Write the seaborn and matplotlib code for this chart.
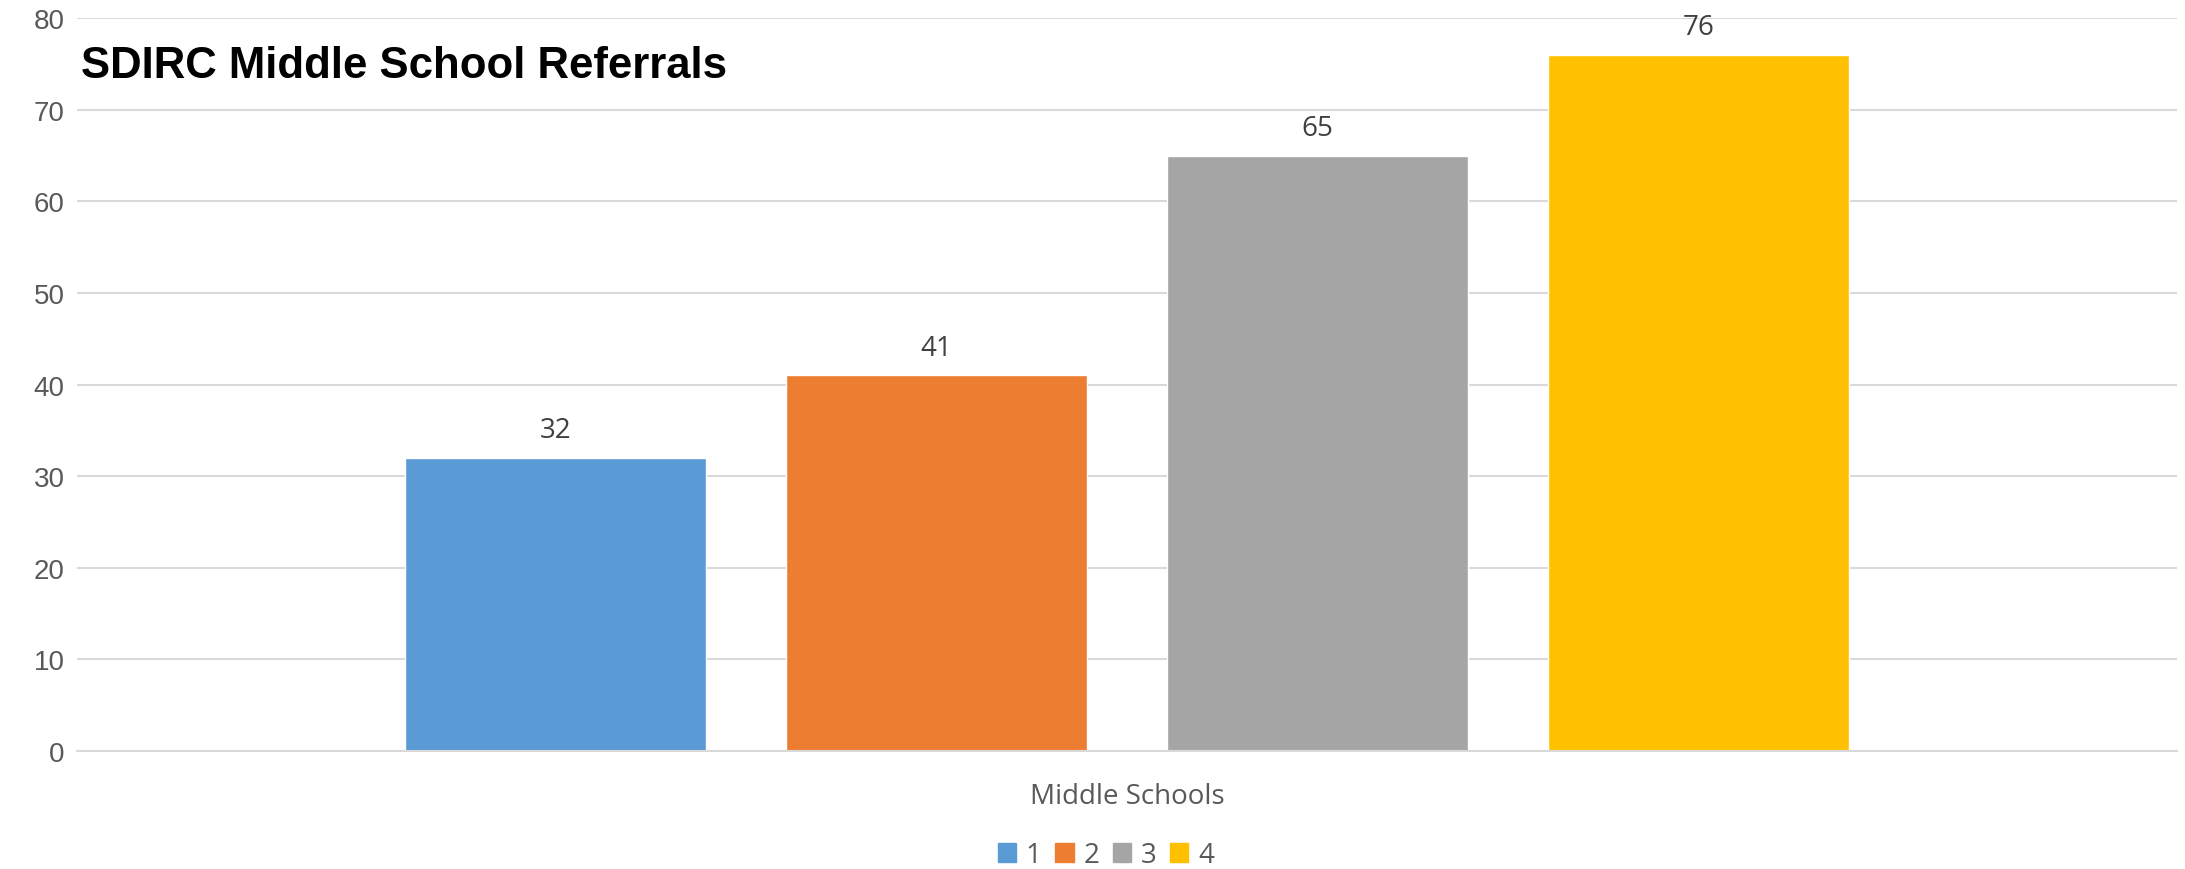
import pandas as pd
import matplotlib.pyplot as plt
import matplotlib.patches as mpatches
import seaborn as sns

# chart data
category = "Middle Schools"
groups = ["1", "2", "3", "4"]
referrals = [32, 41, 65, 76]
colors = ["#5B9BD5", "#ED7D31", "#A5A5A5", "#FFC000"]
y_ticks = [0, 10, 20, 30, 40, 50, 60, 70, 80]

data = pd.DataFrame({"school": [category] * len(groups), "group": groups, "referrals": referrals})

sns.set_theme(style="white")
plt.rcParams["font.family"] = ["Open Sans", "DejaVu Sans"]

fig = plt.figure(figsize=(21.85, 8.7), dpi=100)
ax = fig.add_axes([0.0352, 0.1356, 0.9611, 0.8424])

sns.barplot(data=data, x="school", y="referrals", hue="group", palette=colors,
            width=0.7256, gap=0.21, legend=False, ax=ax, saturation=1)

for cont in ax.containers:
    ax.bar_label(cont, padding=10, fontsize=20, color="#404040")

ax.set_ylim(0, 80)
ax.set_xlim(-0.5, 0.5)
ax.set_yticks(y_ticks)
ax.set_yticklabels([str(t) for t in y_ticks], family="Liberation Sans", fontsize=20, color="#595959")
ax.tick_params(axis="y", length=0, pad=9)
ax.tick_params(axis="x", length=0, pad=22, labelsize=20, labelcolor="#595959")
ax.set_xlabel("")
ax.set_ylabel("")
ax.yaxis.grid(True, color="#D9D9D9", linewidth=1.5)
ax.set_axisbelow(True)
for s in ["top", "left", "right"]:
    ax.spines[s].set_visible(False)
ax.spines["bottom"].set_color("#D9D9D9")
ax.spines["bottom"].set_linewidth(1.5)

fig.text(81 / 2185, 1 - 78 / 870, "SDIRC Middle School Referrals", fontsize=31.5, fontweight="bold",
         family="Liberation Sans", color="black", va="baseline")

handles = [mpatches.Patch(color=c, label=g) for c, g in zip(colors, groups)]
fig.legend(handles=handles, loc="center", bbox_to_anchor=(1106 / 2185, 1 - 856 / 870), ncol=4,
           frameon=False, fontsize=20, handlelength=0.65, handleheight=0.65, handletextpad=0.35,
           columnspacing=0.5, labelcolor="#595959")

fig.savefig("out.png", dpi=100)
